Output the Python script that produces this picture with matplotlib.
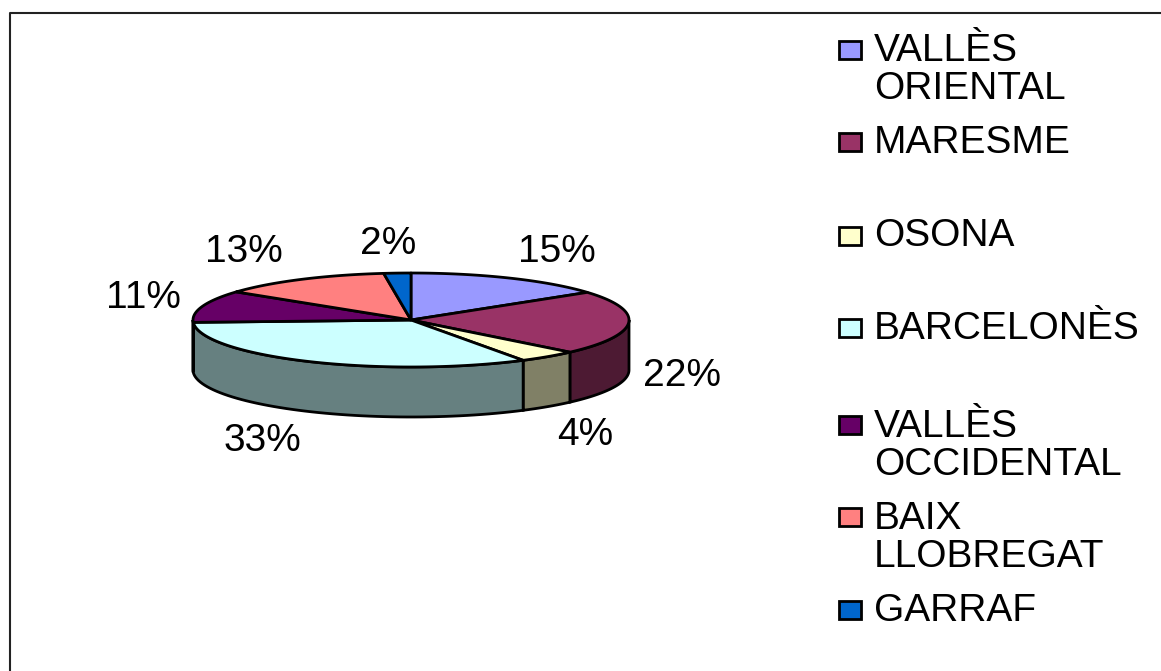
import numpy as np
import matplotlib
matplotlib.use("Agg")
import matplotlib.pyplot as plt

plt.rcParams['font.family'] = ['Liberation Sans', 'DejaVu Sans']

labels = ["VALLÈS\nORIENTAL", "MARESME", "OSONA", "BARCELONÈS",
          "VALLÈS\nOCCIDENTAL", "BAIX\nLLOBREGAT", "GARRAF"]
values = [15, 22, 4.4, 32.8, 11, 12.8, 2]
top_colors = ["#9999FF", "#993366", "#FFFFCC", "#CCFFFF", "#660066", "#FF8080", "#0066CC"]
side_colors = ["#4C4C80", "#4D1A33", "#808066", "#668080", "#330033", "#804040", "#003366"]

label_pos = [(557, 252), (682, 376), (585, 435), (262, 441), (143, 298), (244, 252), (388, 244)]
legend_y = [50, 142, 236, 328, 425, 517, 610]
text_y = [70, 143, 236, 329, 446, 538, 611]

cx, cy, rx, ry, depth = 411, 320, 218, 47, 50

fig = plt.figure(figsize=(11.61, 6.71), dpi=100)
ax = fig.add_axes([0, 0, 1, 1])
ax.set_xlim(0, 1161)
ax.set_ylim(671, 0)
ax.axis("off")

# chart border
ax.plot([1161, 10, 10], [13, 13, 671], color="#222222", lw=1.5)


def ell(a):
    return cx + rx * np.sin(a), cy - ry * np.cos(a)


edges = np.cumsum([0] + values) / sum(values) * 2 * np.pi

# walls: only the front half (pi/2 to 3pi/2) is visible
for i in range(len(values)):
    a0 = max(edges[i], np.pi / 2)
    a1 = min(edges[i + 1], 3 * np.pi / 2)
    if a1 <= a0:
        continue
    t = np.linspace(a0, a1, 60)
    x, y = ell(t)
    ax.fill(np.r_[x, x[::-1]], np.r_[y, y[::-1] + depth],
            fc=side_colors[i], ec="black", lw=2, zorder=2)

# top face
for i in range(len(values)):
    t = np.linspace(edges[i], edges[i + 1], 80)
    x, y = ell(t)
    ax.fill(np.r_[cx, x], np.r_[cy, y], fc=top_colors[i], ec="black", lw=2,
            joinstyle="round", zorder=3)

for i, v in enumerate(values):
    ax.text(label_pos[i][0], label_pos[i][1], f"{v:.0f}%", fontsize=28,
            ha="center", va="center", color="black")

for i, name in enumerate(labels):
    ax.add_patch(plt.Rectangle((839, legend_y[i] - 9), 22, 18, fc=top_colors[i],
                               ec="black", lw=2))
    ax.text(874, text_y[i], name, fontsize=28, ha="left", va="center",
            color="black", linespacing=1.1)

fig.savefig("out.png", dpi=100)
